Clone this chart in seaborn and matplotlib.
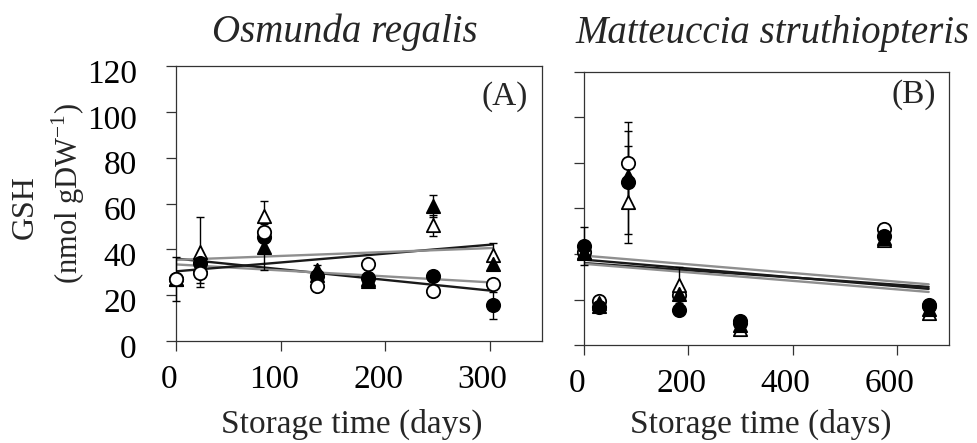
import matplotlib
matplotlib.use("Agg")
import matplotlib.pyplot as plt
from matplotlib.transforms import ScaledTranslation
import pandas as pd
import seaborn as sns

# ---- Osmunda regalis (panel A) ----
days_a = [0, 23, 84, 135, 184, 246, 303]
closed_circle_a = [27, 34, 45.5, 28.5, 27.5, 28.5, 15.5]
open_circle_a = [27, 29.5, 47.5, 24, 33.5, 22, 25]
closed_tri_a = [27, 33, 41, 31, 26, 59, 33.5]
open_tri_a = [27, 39, 54.5, 29, 27, 50.5, 37.5]
sd_closed_circle_a = [0, 2, 2, 2, 2, 2, 6]
sd_open_circle_a = [9.5, 4, 2, 2, 2, 2, 2]
sd_closed_tri_a = [0, 2, 10, 2, 2, 4.7, 2]
sd_open_tri_a = [0, 15.3, 6.8, 2, 2, 4.7, 5.4]

# ---- Matteuccia struthiopteris (panel B) ----
days_b = [0, 28, 85, 183, 300, 576, 661]
closed_circle_b = [43.5, 16.5, 71.5, 15.5, 10.5, 48, 17.5]
open_circle_b = [41, 19.5, 80, 22, 9.5, 51, 17]
closed_tri_b = [41, 17, 74.5, 22.5, 9, 47, 16]
open_tri_b = [40.5, 18.5, 63, 26.5, 7, 46, 14]
sd_closed_circle_b = [8.5, 1.5, 22.5, 1.5, 1.5, 1.5, 1.5]
sd_open_circle_b = [1.5, 1.5, 18, 1.5, 1.5, 1.5, 1.5]
sd_closed_tri_b = [1.5, 1.5, 13, 1.5, 1.5, 1.5, 1.5]
sd_open_tri_b = [1.5, 1.5, 18, 8, 1.5, 1.5, 1.5]

titles = ["Osmunda regalis", "Matteuccia struthiopteris"]
panel_tags = ["(A)", "(B)"]
xticks_a = [0, 100, 200, 300]
xticks_b = [0, 200, 400, 600]
yticks = [0, 20, 40, 60, 80, 100, 120]

sns.set_style("ticks")
plt.rcParams["font.family"] = ["Liberation Serif", "DejaVu Serif"]
plt.rcParams["mathtext.fontset"] = "custom"
plt.rcParams["mathtext.rm"] = "Liberation Serif"

W, H = 978, 443
fig = plt.figure(figsize=(W / 100, H / 100), dpi=100)


def px_box(l, t, r, b):
    return [l / W, 1 - b / H, (r - l) / W, (b - t) / H]


ax_a = fig.add_axes(px_box(176, 66, 542, 341))
ax_b = fig.add_axes(px_box(584, 72, 949, 345))

MS = 92
EW = 1.3
styles = {
    "closed_circle": dict(marker="o", face="black", line="#1a1a1a"),
    "open_circle": dict(marker="o", face="white", line="#8f8f8f"),
    "closed_tri": dict(marker="^", face="black", line="#1a1a1a"),
    "open_tri": dict(marker="^", face="white", line="#8f8f8f"),
}


def draw_panel(ax, days, series, order):
    for name, (vals, sd) in series.items():
        st = styles[name]
        df = pd.DataFrame({"day": days, "gsh": vals})
        sns.regplot(data=df, x="day", y="gsh", ax=ax, ci=None, scatter=False,
                    color=st["line"], line_kws=dict(lw=1.7, zorder=2))
        ax.errorbar(days, vals, yerr=sd, fmt="none", ecolor="black",
                    elinewidth=1.0, capsize=2.8, capthick=1.0, zorder=3,
                    clip_on=False)
    for z, name in enumerate(order):
        vals, sd = series[name]
        st = styles[name]
        df = pd.DataFrame({"day": days, "gsh": vals})
        sns.scatterplot(data=df, x="day", y="gsh", ax=ax, marker=st["marker"],
                        s=MS, color=st["face"], edgecolor="black",
                        linewidth=EW, zorder=5 + z, clip_on=False)


draw_panel(ax_a, days_a, {
    "closed_circle": (closed_circle_a, sd_closed_circle_a),
    "open_circle": (open_circle_a, sd_open_circle_a),
    "closed_tri": (closed_tri_a, sd_closed_tri_a),
    "open_tri": (open_tri_a, sd_open_tri_a),
}, order=["open_tri", "closed_tri", "closed_circle", "open_circle"])

draw_panel(ax_b, days_b, {
    "closed_circle": (closed_circle_b, sd_closed_circle_b),
    "open_circle": (open_circle_b, sd_open_circle_b),
    "closed_tri": (closed_tri_b, sd_closed_tri_b),
    "open_tri": (open_tri_b, sd_open_tri_b),
}, order=["open_circle", "open_tri", "closed_tri", "closed_circle"])

for ax, xt, xmax in [(ax_a, xticks_a, 350), (ax_b, xticks_b, 700)]:
    ax.set_xlim(0, xmax)
    ax.set_ylim(0, 120)
    ax.set_xticks(xt)
    ax.set_yticks(yticks)
    ax.set_xlabel("")
    ax.set_ylabel("")
    for sp in ax.spines.values():
        sp.set_visible(True)
        sp.set_linewidth(0.9)
        sp.set_color("#333333")
    ax.tick_params(direction="out", length=7.2, width=0.9, color="#333333",
                   labelsize=24, labelcolor="black")
    ax.tick_params(axis="x", pad=10)
    ax.tick_params(axis="y", pad=21)

ax_b.tick_params(axis="y", labelleft=False)

# tick label nudges
for ax in (ax_a, ax_b):
    for lab in ax.get_xticklabels():
        lab.set_transform(lab.get_transform() +
                          ScaledTranslation(-7 / 100, 0, fig.dpi_scale_trans))
for lab in ax_a.get_yticklabels():
    lab.set_transform(lab.get_transform() +
                      ScaledTranslation(0, -5 / 100, fig.dpi_scale_trans))

# axis labels
fig.text(352 / W, 1 - 424 / H, "Storage time (days)", fontsize=24,
         ha="center", va="center")
fig.text(761 / W, 1 - 424 / H, "Storage time (days)", fontsize=24,
         ha="center", va="center")
fig.text(25 / W, 1 - 207 / H, "GSH", fontsize=23, rotation=90,
         ha="center", va="center")
fig.text(68 / W, 1 - 193 / H, r"(nmol gDW$^{\mathregular{-1}}$)", fontsize=22,
         rotation=90, ha="center", va="center")

# titles and panel tags
fig.text(345 / W, 1 - 42 / H, titles[0], fontsize=28, style="italic",
         ha="center", va="baseline")
fig.text(773 / W, 1 - 43 / H, titles[1], fontsize=28, style="italic",
         ha="center", va="baseline")
fig.text(505 / W, 1 - 97 / H, panel_tags[0], fontsize=24, ha="center",
         va="center")
fig.text(914 / W, 1 - 95 / H, panel_tags[1], fontsize=24, ha="center",
         va="center")

fig.savefig("out.png", dpi=100, facecolor="white")
